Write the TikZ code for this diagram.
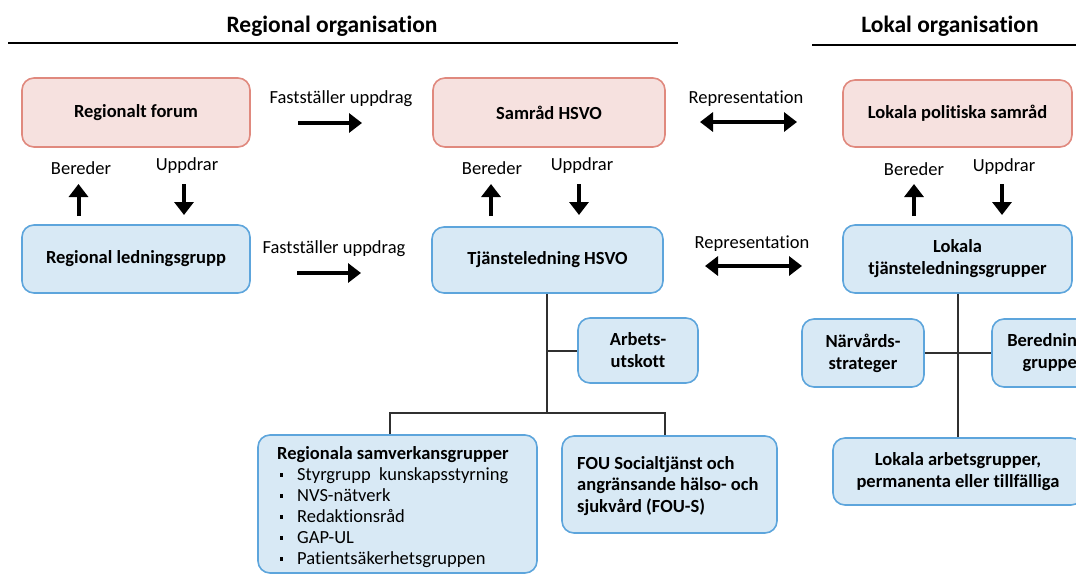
\documentclass[tikz,border=0pt]{standalone}
\usepackage{fontspec}
\setmainfont{Carlito}[Ligatures=NoCommon]
\usetikzlibrary{arrows.meta}
\definecolor{pinkfill}{HTML}{F6E1DF}
\definecolor{pinkdraw}{HTML}{E0897E}
\definecolor{bluefill}{HTML}{D8E9F5}
\definecolor{bluedraw}{HTML}{5DA5DC}
\definecolor{treeline}{HTML}{303030}
\newcommand{\sqbul}{\hspace*{2.5pt}\rule[3.5pt]{3.5pt}{3.5pt}\hspace{14pt}}
\tikzset{
  box/.style={rounded corners=12pt, line width=1.6pt, align=center, inner sep=2pt, font=\fontsize{18.5}{22}\selectfont\bfseries},
  pinkbox/.style={box, draw=pinkdraw, fill=pinkfill},
  bluebox/.style={box, draw=bluedraw, fill=bluefill},
  lbl/.style={font=\fontsize{18.5}{22}\selectfont, inner sep=0pt},
  title/.style={font=\fontsize{23.5}{28}\selectfont\bfseries, inner sep=0pt},
  bigarrow/.style={line width=4pt, -{Triangle[length=13pt,width=19pt]}},
  dblarrow/.style={line width=4pt, {Triangle[length=13pt,width=19pt]}-{Triangle[length=13pt,width=19pt]}},
  tree/.style={line width=1.5pt, draw=treeline},
}
\begin{document}
\begin{tikzpicture}[x=1pt,y=-1pt]
\useasboundingbox (0,0) rectangle (1076,574);
\clip (0,0) rectangle (1076,574);
% titles
\node[title] (t1) at (332,26) {Regional organisation};
\node[title] (t2) at (950,26) {Lokal organisation};
\draw[line width=1.5pt] (8,43) -- (678,43);
\draw[line width=1.5pt] (812,45) -- (1076,45);
% top row
\node[pinkbox, minimum width=228pt, minimum height=69pt] (rf) at (136,112.5) {Regionalt forum};
\node[pinkbox, minimum width=232pt, minimum height=69pt] (sh) at (549,112.5) {Samråd HSVO};
\node[pinkbox, minimum width=229pt, minimum height=67pt] (lps) at (957.5,113.5) {Lokala politiska samråd};
% second row
\node[bluebox, minimum width=228pt, minimum height=68pt] (rlg) at (136,259) {Regional ledningsgrupp};
\node[bluebox, minimum width=231pt, minimum height=66pt] (tj) at (547.5,260) {Tjänsteledning HSVO};
\node[bluebox, minimum width=229pt, minimum height=68pt] (ltg) at (957.5,259) {Lokala\\tjänsteledningsgrupper};
% horizontal labels and arrows
\node[lbl] (f1) at (341,99) {Fastställer uppdrag};
\coordinate (f1a) at (298,123); \coordinate (f1b) at (362,123);
\draw[bigarrow] (f1a) -- (f1b);
\node[lbl] (f2) at (334,249) {Fastställer uppdrag};
\coordinate (f2a) at (297,273); \coordinate (f2b) at (361,273);
\draw[bigarrow] (f2a) -- (f2b);
\node[lbl] (r1) at (746,99) {Representation};
\coordinate (r1a) at (700,122); \coordinate (r1b) at (797,122);
\draw[dblarrow] (r1a) -- (r1b);
\node[lbl] (r2) at (752,244) {Representation};
\coordinate (r2a) at (705,266); \coordinate (r2b) at (802,266);
\draw[dblarrow] (r2a) -- (r2b);
% vertical labels and arrows
\foreach \n/\bx/\ux/\bax/\uax/\yy in {a/81/187/78.5/184/168, b/492/582/491/579/168, c/914/1004/914/1002/169}{
  \node[lbl] (ber\n) at (\bx,\yy) {Bereder};
  \node[lbl] (upp\n) at (\ux,\yy-2) {Uppdrar};
  \coordinate (bu\n1) at (\bax,216); \coordinate (bu\n2) at (\bax,184);
  \coordinate (ud\n1) at (\uax,184); \coordinate (ud\n2) at (\uax,215);
  \draw[bigarrow] (bu\n1) -- (bu\n2);
  \draw[bigarrow] (ud\n1) -- (ud\n2);
}
% regional lower tree
\node[bluebox, minimum width=120pt, minimum height=65pt] (au) at (638,350.5) {Arbets-\\utskott};
\node[bluebox, minimum width=279pt, minimum height=138pt] (rsg) at (397.5,504) {};
\node[bluebox, minimum width=215pt, minimum height=97pt] (fou) at (669.5,484.5) {};
\node[anchor=north west, inner sep=0pt, align=left, font=\fontsize{18.5}{21}\selectfont\bfseries] (rsgt) at (277,446) {Regionala samverkansgrupper\\
\sqbul\mdseries Styrgrupp\ \ kunskapsstyrning\\
\sqbul\mdseries NVS-nätverk\\
\sqbul\mdseries Redaktionsråd\\
\sqbul\mdseries GAP-UL\\
\sqbul\mdseries Patientsäkerhetsgruppen};
\node[anchor=north west, inner sep=0pt, align=left, font=\fontsize{18.5}{21.5}\selectfont\bfseries] (fout) at (577,456) {FOU Socialtjänst och\\angränsande hälso- och\\sjukvård (FOU-S)};
\coordinate (tjj) at (547,351);
\coordinate (tjb) at (547,413);
\draw[tree] (tj.south -| tjb) -- (tjb);
\draw[tree] (tjj) -- (au.west |- tjj);
\draw[tree] (rsg.north -| 390,0) |- (tjb) -| (fou.north -| 665,0);
% local lower tree
\node[bluebox, minimum width=122pt, minimum height=68pt] (nv) at (863,353) {Närvårds-\\strateger};
\node[bluebox, minimum width=122pt, minimum height=68pt] (bg) at (1053,353) {Berednings-\\grupper};
\node[bluebox, minimum width=250pt, minimum height=67pt] (lag) at (958,471.5) {Lokala arbetsgrupper,\\permanenta eller tillfälliga};
\draw[tree] (ltg.south -| lag.north) -- (lag.north);
\draw[tree] (nv.east) -- (bg.west);
\end{tikzpicture}
\end{document}
